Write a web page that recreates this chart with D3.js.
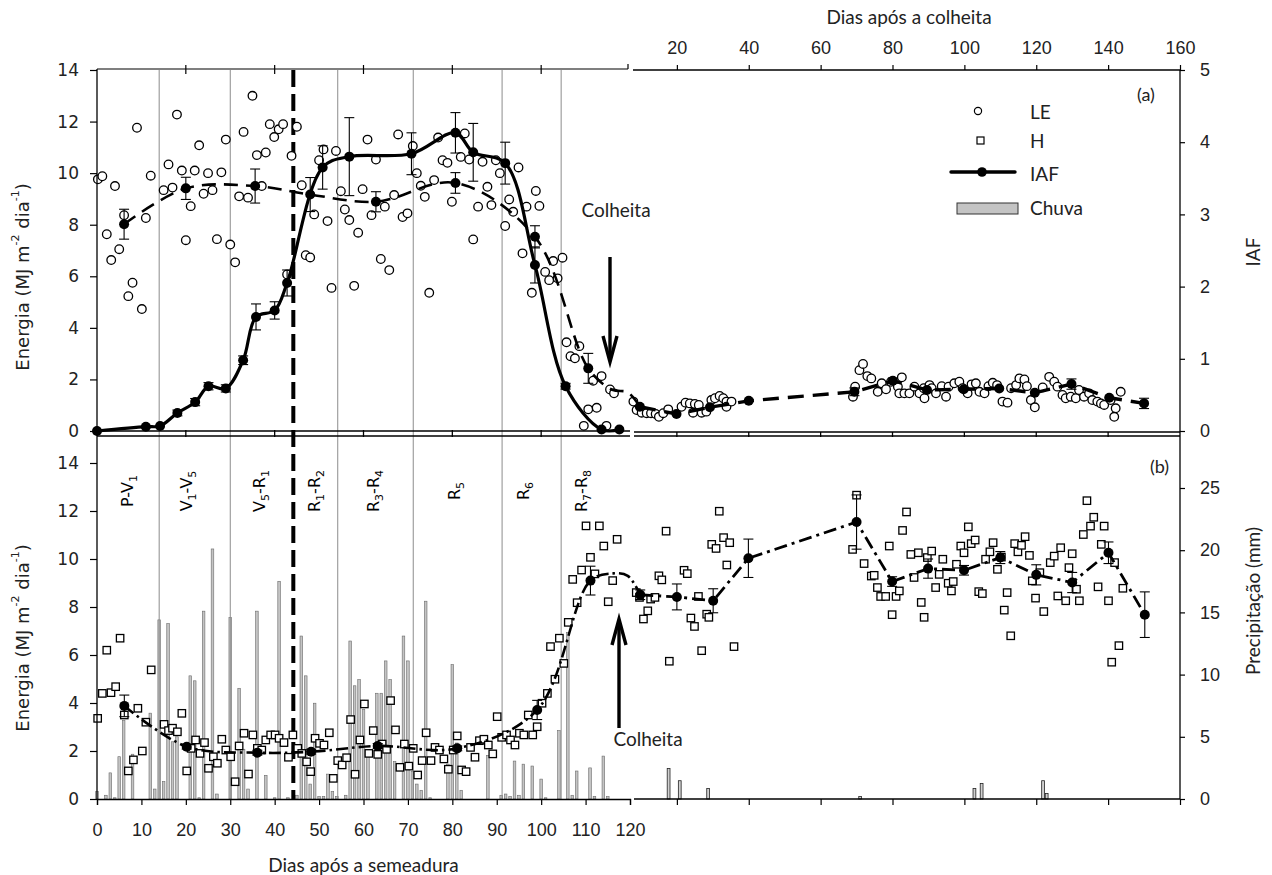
<!DOCTYPE html>
<html><head><meta charset="utf-8">
<script src="https://cdn.jsdelivr.net/npm/d3@7/dist/d3.min.js"></script>
<style>body{margin:0;background:#fff}svg{display:block}</style>
</head><body>
<script>
// ---------- DATA ----------
// (a) LE observations, days after sowing (DAS)
const leDas = [0.2,1.2,2.2,3.2,4.05,5.0,6.1,7.05,8.0,9.0,10.1,11.0,12.1,15.0,16.1,17.0,18.0,19.1,20.0,21.1,22.0,23.0,24.0,25.0,26.0,27.0,28.0,29.0,30.0,31.1,32.0,33.0,34.0,35.0,36.0,37.1,38.0,38.9,39.9,40.9,41.9,42.8,43.8,45.0,46.1,47.0,48.0,48.9,50.0,51.0,51.9,52.8,53.8,54.9,55.8,56.8,57.9,58.8,59.8,60.9,61.8,62.8,63.9,64.8,65.8,66.9,67.8,68.8,69.9,71.1,72.0,72.9,73.8,74.8,75.9,76.8,77.8,78.9,79.9,81.9,82.8,83.8,84.7,85.8,86.8,87.9,88.8,89.8,90.7,91.9,92.8,93.7,94.9,95.8,96.7,97.9,98.8,99.6,100.9,101.8,102.7,103.7,104.8,105.7,106.6,107.6,108.6,109.6,110.6,111.7,112.5,113.6,114.7,115.5,116.4];
const leVal = [9.76,9.88,7.63,6.63,9.5,7.05,8.37,5.23,5.75,11.76,4.73,8.26,9.9,9.34,10.34,9.44,12.27,10.1,7.4,8.72,10.1,11.08,9.2,10.0,9.34,7.44,10.03,11.3,7.23,6.54,9.1,11.6,9.05,13.0,10.7,9.5,10.8,11.9,11.4,11.7,11.9,6.07,10.67,11.8,9.53,6.82,6.73,8.4,10.5,10.92,8.14,5.55,10.86,9.3,8.59,8.18,5.63,7.69,9.38,11.3,8.37,10.53,6.67,8.7,6.24,9.15,11.5,8.3,8.44,11.05,10.0,9.51,9.08,5.36,9.73,11.38,10.5,10.4,8.89,10.63,11.54,10.53,7.43,8.7,10.44,9.47,8.76,10.5,10.0,7.95,8.98,8.5,10.22,6.89,8.7,5.36,9.31,8.73,6.17,5.85,6.59,5.92,6.72,3.44,2.9,2.82,3.29,0.2,0.84,1.95,0.9,2.13,0.2,1.61,1.46];
// (a) LE observations, days after harvest (DAC)
const leDac = [7.9,8.8,10.2,11.6,12.8,14.1,15.0,16.2,17.6,21.3,22.4,23.6,25.0,26.1,24.5,26.9,28.2,29.6,30.6,31.9,32.9,33.8,33.8,35.2,69.0,69.6,70.8,71.8,73.0,74.1,75.9,77.0,78.2,79.6,81.5,82.6,81.9,83.3,84.7,86.1,87.5,88.9,88.7,90.3,90.9,92.1,93.7,94.9,95.6,97.2,98.6,99.5,100.9,102.0,103.2,104.2,105.6,106.7,107.9,109.1,110.6,112.0,113.0,114.4,115.3,116.7,117.4,118.5,119.6,121.8,123.6,125.0,125.9,127.3,128.2,129.6,131.0,131.9,133.3,134.7,135.6,137.0,138.0,138.9,140.7,142.1,141.7,143.5];
const leValR = [1.14,0.81,0.71,0.69,0.69,0.66,0.55,0.69,0.84,0.94,1.10,1.07,1.05,1.01,0.71,0.71,0.75,1.20,1.27,1.36,1.27,1.14,0.94,1.14,1.33,1.72,2.36,2.60,2.13,2.04,1.52,1.85,1.62,1.91,1.72,2.08,1.46,1.46,1.46,1.72,1.46,1.27,1.66,1.78,1.66,1.46,1.74,1.33,1.72,1.85,1.91,1.66,1.46,1.81,1.85,1.52,1.46,1.74,1.87,1.78,1.14,1.10,1.66,1.78,2.04,2.00,1.74,1.20,0.92,1.69,2.10,1.91,1.72,1.40,1.27,1.33,1.27,1.59,1.33,1.46,1.20,1.14,1.07,1.01,1.20,0.88,0.55,1.52];
// LE means (dashed line)
const leMeanDas = [6.1,20.0,35.6,48.0,62.8,80.7,98.6,110.6];
const leMeanVal = [8.02,9.41,9.5,9.17,8.89,9.62,7.53,2.43];
const leMeanErr = [0.58,0.43,0.66,0.66,0.39,0.4,0.43,0.58];
const leTailDas = [116.0,119.5];
const leTailVal = [1.6,1.5];
const leMeanDac = [9.7,19.9,29.2,40.0,69.4,80.1,89.6,99.8,109.7,119.6,129.8,140.3,150.0];
const leMeanValR = [0.94,0.66,0.92,1.17,1.52,1.95,1.59,1.62,1.65,1.48,1.82,1.29,1.07];
const leMeanErrR = [0,0,0,0,0.15,0.1,0,0,0,0,0.2,0,0.2];
// IAF (leaf area index)
const iafDas = [0,11,14.2,18.1,22.1,25.1,29.0,32.9,35.8,40.0,42.8,50.8,56.8,70.8,80.7,84.7,91.9,98.6,105.5,113.6,117.6];
const iafVal = [0,0.06,0.07,0.25,0.40,0.62,0.59,0.98,1.58,1.67,2.05,3.65,3.8,3.84,4.13,3.86,3.71,2.3,0.62,0.02,0.02];
const iafErr = [0,0,0,0.04,0.05,0.05,0.05,0.06,0.18,0.12,0.18,0.3,0.54,0.29,0.28,0.4,0.29,0.25,0.04,0,0];
// (b) H observations
const hDas = [0.15,1.2,2.2,3.15,4.2,5.2,6.15,7.05,8.2,9.2,10.2,11.0,12.2,15.1,16.1,17.0,18.1,19.1,20.2,21.2,22.2,23.2,24.2,25.1,26.2,27.1,28.1,29.0,30.1,31.1,32.0,33.1,34.1,35.1,36.1,37.1,38.0,39.1,40.1,41.0,42.1,43.1,44.1,45.2,46.1,47.2,48.1,49.1,50.1,51.1,52.3,53.2,54.2,55.2,56.2,57.1,58.1,59.2,60.2,61.2,62.2,63.2,64.2,65.2,66.1,67.2,68.2,69.2,70.2,71.2,72.2,73.2,74.1,75.2,76.1,77.1,78.1,79.1,80.2,81.1,82.1,83.1,84.1,85.1,86.1,87.1,88.1,89.1,90.1,91.1,92.2,93.1,94.1,95.1,96.1,97.1,98.1,99.1,100.2,101.4,102.1,103.1,104.1,105.1,106.1,107.1,108.1,109.1,110.1,111.1,112.1,113.1,114.1,115.1,116.1,117.1];
const hVal = [3.36,4.4,6.2,4.43,4.68,6.7,3.5,1.17,1.63,3.78,2.0,3.2,5.38,3.11,2.85,2.95,2.8,3.57,1.17,2.11,2.46,1.9,2.35,1.28,1.76,1.49,2.49,2.04,1.76,0.72,2.21,2.74,1.04,2.67,2.11,2.04,2.46,2.67,2.67,2.53,2.35,1.74,2.67,2.11,1.9,1.55,1.14,2.53,2.32,2.25,2.76,0.86,1.6,1.42,1.72,3.31,1.03,2.46,3.96,1.9,2.85,1.86,2.29,2.07,4.1,2.88,1.32,2.29,1.37,2.11,1.0,1.6,2.76,1.6,2.15,2.04,1.67,1.24,2.04,2.63,1.21,1.14,2.15,1.74,2.43,2.49,2.25,1.88,3.43,2.57,2.67,2.46,2.25,2.74,2.67,3.5,2.67,3.01,3.99,4.4,6.35,4.99,6.7,5.65,7.36,9.15,8.18,9.54,11.38,10.07,9.38,11.38,10.54,8.22,9.1,10.82];
const hDac = [8.7,9.6,10.7,11.9,12.7,13.9,15.0,15.8,17.0,17.9,22.0,22.9,23.9,24.9,26.0,26.9,28.3,28.9,29.7,30.9,31.8,33.0,34.7,33.9,35.9,70.0,68.9,72.1,74.1,74.9,75.8,76.7,78.1,79.1,79.9,81.0,81.9,82.8,83.9,85.1,86.0,87.2,88.0,88.8,89.7,90.9,92.0,93.0,94.0,95.5,96.4,96.9,97.8,99.0,99.9,101.1,101.9,103.0,104.0,105.0,105.9,107.1,108.0,109.2,110.3,111.1,111.9,112.9,114.0,114.9,115.9,116.9,118.1,118.9,119.8,121.0,122.1,123.9,125.0,126.0,126.8,128.2,129.1,130.0,131.2,132.0,133.1,134.1,135.1,136.0,137.2,138.1,138.9,140.1,141.0,141.8,143.0,144.1];
const hValR = [8.6,8.4,7.5,7.84,8.33,8.4,9.3,9.13,11.16,5.74,9.53,9.39,7.54,7.19,8.44,6.18,7.7,7.57,10.61,10.44,11.99,10.89,10.68,9.75,6.35,12.66,10.4,9.81,9.29,9.32,8.81,8.44,8.44,10.54,7.68,8.44,8.67,11.19,11.96,10.19,9.23,10.26,8.19,7.57,10.06,10.33,8.81,9.36,9.99,8.99,8.67,9.06,9.78,10.54,10.26,11.34,10.64,10.79,8.64,8.56,9.99,10.3,10.68,9.57,10.08,7.87,8.6,6.8,10.64,10.3,10.57,10.93,10.15,9.09,8.37,9.43,7.81,9.85,10.12,8.46,10.47,8.26,9.64,10.22,8.74,8.26,11.02,12.43,11.37,11.74,8.84,10.61,11.37,8.26,5.7,9.85,6.39,8.78];
// H means (dash-dot line)
const hMeanDas = [6.15,20.2,36.1,48.2,63.2,81.1,99.1,111.1];
const hMeanVal = [3.88,2.18,1.93,1.97,2.21,2.11,3.71,9.1];
const hMeanErr = [0.45,0.1,0.1,0.1,0.1,0.1,0.4,0.6];
const hTailDas = [116.2,119.5];
const hTailVal = [9.4,9.3];
const hMeanDac = [9.8,20.0,30.1,39.9,70.0,79.9,89.9,99.9,110.0,120.0,130.0,140.1,150.2];
const hMeanValR = [8.51,8.42,8.26,10.03,11.54,9.06,9.6,9.53,10.06,9.34,9.02,10.26,7.68];
const hMeanErrR = [0.2,0.54,0.5,0.8,1.13,0.2,0.4,0.2,0.25,0.42,0.42,0.45,0.95];
// Rain (Chuva), mm
const rainDas = [0,2,3,4,5,6,8,12,13,14,15,16,17,18,21,22,23,24,26,27,30,32,33,34,36,38,40,41,43,45,46,47,48,49,50,51,52,53,54,56,57,58,59,60,61,63,64,65,66,67,69,70,71,72,73,74,75,79,80,81,82,88,91,92,93,94,95,96,98,100,101,104,106,107,108,111,112,114,115];
const rainMm = [0.6,0.3,2.1,0.1,3.4,6.3,3.6,6.9,0.8,14.4,1.4,14.1,4.6,5.0,9.9,9.5,0.1,15.1,20.1,0.4,14.6,8.9,4.0,0.8,15.1,1.9,0.1,17.5,0.1,0.3,13.1,9.9,1.2,7.7,0.2,0.2,2.0,0.6,0.2,0.3,12.7,9.1,9.6,7.2,3.5,8.5,8.5,11.1,9.6,3.0,13.1,11.1,2.2,1.2,0.7,15.9,0.1,2.8,10.8,4.5,0.7,3.5,0.3,0.4,0.2,3.05,0.3,2.8,2.65,1.6,0.1,5.5,13.4,0.3,2.25,2.5,0.2,3.45,0.2];
const rainDac = [17.7,20.8,28.7,71.0,102.8,104.8,121.9,122.9];
const rainMmR = [2.45,1.47,0.85,0.2,0.85,1.25,1.47,0.45];
// stages
const stageBounds = [14,30,54.2,71.2,91.2,104.5];
const dasR1Line = 44.2;
const stageLabels = ["P-V_1","V_1-V_5","V_5-R_1","R_1-R_2","R_3-R_4","R_5","R_6","R_7-R_8"];
const stageLabelDas = [7.0,20.3,36.6,49.0,62.3,80.5,96.2,109.2];
// ticks
const dasTicks = [0,10,20,30,40,50,60,70,80,90,100,110,120];
const dacTicks = [20,40,60,80,100,120,140,160];
const energyTicks = [0,2,4,6,8,10,12,14];
const iafTicks = [0,1,2,3,4,5];
const rainTicks = [0,5,10,15,20,25];

// ---------- SCALES ----------
const xL = d3.scaleLinear().domain([0,120]).range([97,630]);
const xR = d3.scaleLinear().domain([0,160]).range([605,1180]);
const yE1 = d3.scaleLinear().domain([0,14]).range([431,70]);
const yI = d3.scaleLinear().domain([0,5]).range([431,70]);
const yE2 = d3.scaleLinear().domain([0,14]).range([799,463]);
const yP = d3.scaleLinear().domain([0,25]).range([799,488]);

const svg = d3.select('body').append('svg').attr('width',1272).attr('height',875)
  .style('font-family','Lato, "Noto Sans", sans-serif');

const LFONT = '"DejaVu Sans", Verdana, sans-serif';

// ---------- RAIN ----------
const gRain = svg.append('g');
gRain.selectAll('rect.rl').data(rainDas).join('rect')
  .attr('x',(d)=>xL(d)-1.3).attr('width',2.6)
  .attr('y',(d,i)=>yP(rainMm[i])).attr('height',(d,i)=>yP(0)-yP(rainMm[i]))
  .attr('fill','#c4c4c4').attr('stroke','#6a6a6a').attr('stroke-width',0.6);
gRain.selectAll('rect.rr').data(rainDac).join('rect')
  .attr('x',(d)=>xR(d)-1.4).attr('width',2.8)
  .attr('y',(d,i)=>yP(rainMmR[i])).attr('height',(d,i)=>yP(0)-yP(rainMmR[i]))
  .attr('fill','#d0d0d0').attr('stroke','#222').attr('stroke-width',0.8);

// ---------- STAGE LINES ----------
svg.append('g').selectAll('line').data(stageBounds).join('line')
  .attr('x1',d=>xL(d)).attr('x2',d=>xL(d)).attr('y1',70).attr('y2',799)
  .attr('stroke','#8c8c8c').attr('stroke-width',1);
svg.append('line').attr('x1',xL(dasR1Line)).attr('x2',xL(dasR1Line)).attr('y1',70).attr('y2',799)
  .attr('stroke','#000').attr('stroke-width',4).attr('stroke-dasharray','17,7');

// stage labels
const gSt = svg.append('g').style('font-family',LFONT).style('font-size','16px');
stageLabels.forEach((s,i)=>{
  const t = gSt.append('text').attr('text-anchor','middle')
    .attr('transform',`translate(${xL(stageLabelDas[i])+5},491) rotate(-90)`);
  const parts = s.split(/(_\d)/).filter(p=>p.length);
  let sub=false;
  parts.forEach(p=>{
    if(p.startsWith('_')){
      t.append('tspan').attr('dy',sub?0:4).style('font-size','11px').text(p.slice(1));
      sub=true;
    } else {
      t.append('tspan').attr('dy',sub?-4:0).text(p);
      sub=false;
    }
  });
});

// ---------- helpers ----------
function errBars(g, xs, ys, es, xs_, ys_, cap){
  xs.forEach((d,i)=>{
    if(!es[i]) return;
    const x = xs_(d), y1 = ys_(ys[i]-es[i]), y2 = ys_(ys[i]+es[i]);
    g.append('line').attr('x1',x).attr('x2',x).attr('y1',y1).attr('y2',y2).attr('stroke','#000').attr('stroke-width',1.1);
    [y1,y2].forEach(y=>g.append('line').attr('x1',x-cap).attr('x2',x+cap).attr('y1',y).attr('y2',y).attr('stroke','#000').attr('stroke-width',1.1));
  });
}
const line = d3.line().x(d=>d[0]).y(d=>d[1]);

// ---------- PANEL (b) points & lines ----------
const gB = svg.append('g');
gB.selectAll('rect.hl').data(hDas).join('rect')
  .attr('x',d=>xL(d)-3.7).attr('y',(d,i)=>yE2(hVal[i])-3.7).attr('width',7.4).attr('height',7.4)
  .attr('fill','#fff').attr('stroke','#000').attr('stroke-width',1.3);
gB.selectAll('rect.hr').data(hDac).join('rect')
  .attr('x',d=>xR(d)-3.7).attr('y',(d,i)=>yE2(hValR[i])-3.7).attr('width',7.4).attr('height',7.4)
  .attr('fill','#fff').attr('stroke','#000').attr('stroke-width',1.3);

const hLeftPts = hMeanDas.map((d,i)=>[xL(d),yE2(hMeanVal[i])])
  .concat(hTailDas.map((d,i)=>[xL(d),yE2(hTailVal[i])]))
  .concat([[xR(hMeanDac[0]),yE2(hMeanValR[0])]]);
gB.append('path').attr('d',line.curve(d3.curveCatmullRom.alpha(0.5))(hLeftPts))
  .attr('fill','none').attr('stroke','#000').attr('stroke-width',2.6).attr('stroke-dasharray','12,4,2.5,4');
const hRightPts = hMeanDac.map((d,i)=>[xR(d),yE2(hMeanValR[i])]);
gB.append('path').attr('d',line.curve(d3.curveLinear)(hRightPts))
  .attr('fill','none').attr('stroke','#000').attr('stroke-width',2.8).attr('stroke-dasharray','13,5,3,5');
errBars(gB,hMeanDas,hMeanVal,hMeanErr,xL,yE2,5);
errBars(gB,hMeanDac,hMeanValR,hMeanErrR,xR,yE2,5);
gB.selectAll('circle.hm').data(hMeanDas).join('circle').attr('cx',d=>xL(d)).attr('cy',(d,i)=>yE2(hMeanVal[i])).attr('r',5).attr('fill','#000');
gB.selectAll('circle.hmr').data(hMeanDac).join('circle').attr('cx',d=>xR(d)).attr('cy',(d,i)=>yE2(hMeanValR[i])).attr('r',5).attr('fill','#000');

// ---------- PANEL (a) ----------
const gA = svg.append('g');
gA.selectAll('circle.le').data(leDas).join('circle')
  .attr('cx',d=>xL(d)).attr('cy',(d,i)=>yE1(leVal[i])).attr('r',4.3)
  .attr('fill','#fff').attr('stroke','#000').attr('stroke-width',1.3);
gA.selectAll('circle.ler').data(leDac).join('circle')
  .attr('cx',d=>xR(d)).attr('cy',(d,i)=>yE1(leValR[i])).attr('r',4.3)
  .attr('fill','#fff').attr('stroke','#000').attr('stroke-width',1.3);

const leLeftPts = leMeanDas.map((d,i)=>[xL(d),yE1(leMeanVal[i])])
  .concat(leTailDas.map((d,i)=>[xL(d),yE1(leTailVal[i])]))
  .concat([[xR(leMeanDac[0]),yE1(leMeanValR[0])]]);
gA.append('path').attr('d',line.curve(d3.curveCatmullRom.alpha(0.5))(leLeftPts))
  .attr('fill','none').attr('stroke','#000').attr('stroke-width',2.6).attr('stroke-dasharray','14,8');
const leRightPts = leMeanDac.map((d,i)=>[xR(d),yE1(leMeanValR[i])]);
gA.append('path').attr('d',line.curve(d3.curveLinear)(leRightPts))
  .attr('fill','none').attr('stroke','#000').attr('stroke-width',3.4).attr('stroke-dasharray','16,9');
errBars(gA,leMeanDas,leMeanVal,leMeanErr,xL,yE1,5);
errBars(gA,leMeanDac,leMeanValR,leMeanErrR,xR,yE1,5);
gA.selectAll('circle.lm').data(leMeanDas).join('circle').attr('cx',d=>xL(d)).attr('cy',(d,i)=>yE1(leMeanVal[i])).attr('r',5).attr('fill','#000');
gA.selectAll('circle.lmr').data(leMeanDac).join('circle').attr('cx',d=>xR(d)).attr('cy',(d,i)=>yE1(leMeanValR[i])).attr('r',5).attr('fill','#000');

const iafPts = iafDas.map((d,i)=>[xL(d),yI(iafVal[i])]);
gA.append('path').attr('d',line.curve(d3.curveCatmullRom.alpha(0.5))(iafPts))
  .attr('fill','none').attr('stroke','#000').attr('stroke-width',3.2);
errBars(gA,iafDas,iafVal,iafErr,xL,yI,5);
gA.selectAll('circle.iaf').data(iafDas).join('circle').attr('cx',d=>xL(d)).attr('cy',(d,i)=>yI(iafVal[i])).attr('r',5).attr('fill','#000');

// ---------- AXES / FRAMES ----------
const gAx = svg.append('g').attr('stroke','#000');
function hline(x1,x2,y,w){gAx.append('line').attr('x1',x1).attr('x2',x2).attr('y1',y).attr('y2',y).attr('stroke-width',w||1.3);}
function vline(x,y1,y2,w){gAx.append('line').attr('x1',x).attr('x2',x).attr('y1',y1).attr('y2',y2).attr('stroke-width',w||1.3);}
vline(97,69,799);
vline(1180,70,799);
// top of (a), left part
hline(97,628,69,1.2);
[20,40,60,80,100].forEach(d=>vline(xL(d),65,74,1.2));
vline(628,64,69,1.2);
// bottom of (a) / top of (b): double lines
hline(97,630,431,1.3); hline(97,630,436,1.3);
hline(634,1180,432,1.3); hline(634,1180,436,1.3);
[20,40,60,80,100].forEach(d=>vline(xL(d),430,437,1.3));
dacTicks.slice(0,7).forEach(d=>vline(xR(d),432,437,1.3));
// top of (a) right part
hline(633,1180,70,1.3);
// bottom right
hline(634,1180,799,1.3);

// left energy axes
const axE1 = svg.append('g').attr('transform','translate(97,0)')
  .call(d3.axisLeft(yE1).tickValues(energyTicks).tickSize(7).tickPadding(11).tickFormat(d3.format('d')));
const axE2 = svg.append('g').attr('transform','translate(97,0)')
  .call(d3.axisLeft(yE2).tickValues(energyTicks).tickSize(7).tickPadding(11).tickFormat(d3.format('d')));
[axE1,axE2].forEach(a=>{a.select('.domain').remove();a.selectAll('text').style('font-family',LFONT).style('font-size','17px').attr('fill','#222');a.selectAll('line').attr('stroke-width',1.2);});

// right axes
const axI = svg.append('g').attr('transform','translate(1180,0)')
  .call(d3.axisRight(yI).tickValues(iafTicks).tickSize(5).tickPadding(15).tickFormat(d3.format('d')));
const axP = svg.append('g').attr('transform','translate(1180,0)')
  .call(d3.axisRight(yP).tickValues(rainTicks).tickSize(5).tickPadding(15).tickFormat(d3.format('d')));
[axI,axP].forEach(a=>{a.select('.domain').remove();a.selectAll('text').style('font-size','18px').attr('fill','#222');a.selectAll('line').attr('stroke-width',1.2);});

// bottom x axis (DAS)
const axB = svg.append('g').attr('transform','translate(0,799)')
  .call(d3.axisBottom(xL).tickValues(dasTicks).tickSize(6).tickPadding(18).tickFormat(d3.format('d')));
axB.select('.domain').attr('stroke-width',1.3);
axB.selectAll('text').style('font-size','18px').attr('fill','#222');
axB.selectAll('line').attr('stroke-width',1.2);

// bottom right (DAC) ticks only
const axBR = svg.append('g').attr('transform','translate(0,799)')
  .call(d3.axisBottom(xR).tickValues(dacTicks).tickSize(6).tickFormat(''));
axBR.select('.domain').remove(); axBR.selectAll('line').attr('stroke-width',1.2);

// top right (DAC)
const axT = svg.append('g').attr('transform','translate(0,70)')
  .call(d3.axisTop(xR).tickValues(dacTicks).tickSize(5).tickPadding(11).tickFormat(d3.format('d')));
axT.select('.domain').remove();
axT.selectAll('text').style('font-size','18px').attr('fill','#222');
axT.selectAll('line').attr('stroke-width',1.2);

// ---------- TEXTS ----------
const T = svg.append('g').attr('fill','#222');
function energyTitle(y){
  const t = T.append('text').attr('text-anchor','middle').attr('dominant-baseline','central')
    .attr('transform',`translate(22,${y}) rotate(-90)`).style('font-family',LFONT).style('font-size','18px');
  t.append('tspan').text('Energia (MJ m');
  t.append('tspan').attr('dy',-7).style('font-size','11px').text('-2');
  t.append('tspan').attr('dy',7).text(' dia');
  t.append('tspan').attr('dy',-7).style('font-size','11px').text('-1');
  t.append('tspan').attr('dy',7).text(')');
}
energyTitle(277); energyTitle(638);
T.append('text').attr('text-anchor','middle').attr('transform','translate(1252,252) rotate(-90)')
  .attr('dominant-baseline','central').style('font-size','19px').text('IAF');
T.append('text').attr('text-anchor','middle').attr('transform','translate(1252,601) rotate(-90)')
  .attr('dominant-baseline','central').style('font-size','19px').text('Precipitação (mm)');
T.append('text').attr('x',xL(60)).attr('y',872).attr('text-anchor','middle').style('font-size','19px').text('Dias após a semeadura');
T.append('text').attr('x',909).attr('y',24).attr('text-anchor','middle').style('font-size','19px').text('Dias após a colheita');
T.append('text').attr('x',1137).attr('y',101).style('font-size','18px').text('(a)');
T.append('text').attr('x',1150).attr('y',473).style('font-size','18px').text('(b)');
T.append('text').attr('x',616).attr('y',217).attr('text-anchor','middle').style('font-size','19px').text('Colheita');
T.append('text').attr('x',648).attr('y',746).attr('text-anchor','middle').style('font-size','19px').text('Colheita');

// arrows
const gArr = svg.append('g').attr('stroke','#000').attr('fill','none').attr('stroke-width',3.4);
gArr.append('line').attr('x1',610).attr('x2',610).attr('y1',257).attr('y2',361);
gArr.append('path').attr('d','M603,336 L610,362 L617,336').attr('stroke-linejoin','miter');
gArr.append('line').attr('x1',619).attr('x2',619).attr('y1',728).attr('y2',620);
gArr.append('path').attr('d','M612,645 L619,619 L626,645').attr('stroke-linejoin','miter');

// legend
const gL = svg.append('g');
gL.append('circle').attr('cx',978).attr('cy',111).attr('r',3.6).attr('fill','#fff').attr('stroke','#000').attr('stroke-width',1.2);
gL.append('rect').attr('x',977).attr('y',137).attr('width',7).attr('height',7).attr('fill','#fff').attr('stroke','#000').attr('stroke-width',1.2);
gL.append('line').attr('x1',951).attr('x2',1015).attr('y1',172).attr('y2',172).attr('stroke','#000').attr('stroke-width',3.4).attr('stroke-linecap','round');
gL.append('circle').attr('cx',982).attr('cy',172).attr('r',4.8).attr('fill','#000');
gL.append('rect').attr('x',957).attr('y',203).attr('width',61).attr('height',11).attr('fill','#c4c4c4').attr('stroke','#333').attr('stroke-width',1);
[['LE',119],['H',148],['IAF',181],['Chuva',215]].forEach(([s,y])=>{
  gL.append('text').attr('x',1030).attr('y',y).style('font-size','19px').attr('fill','#222').text(s);
});
</script>
</body></html>
